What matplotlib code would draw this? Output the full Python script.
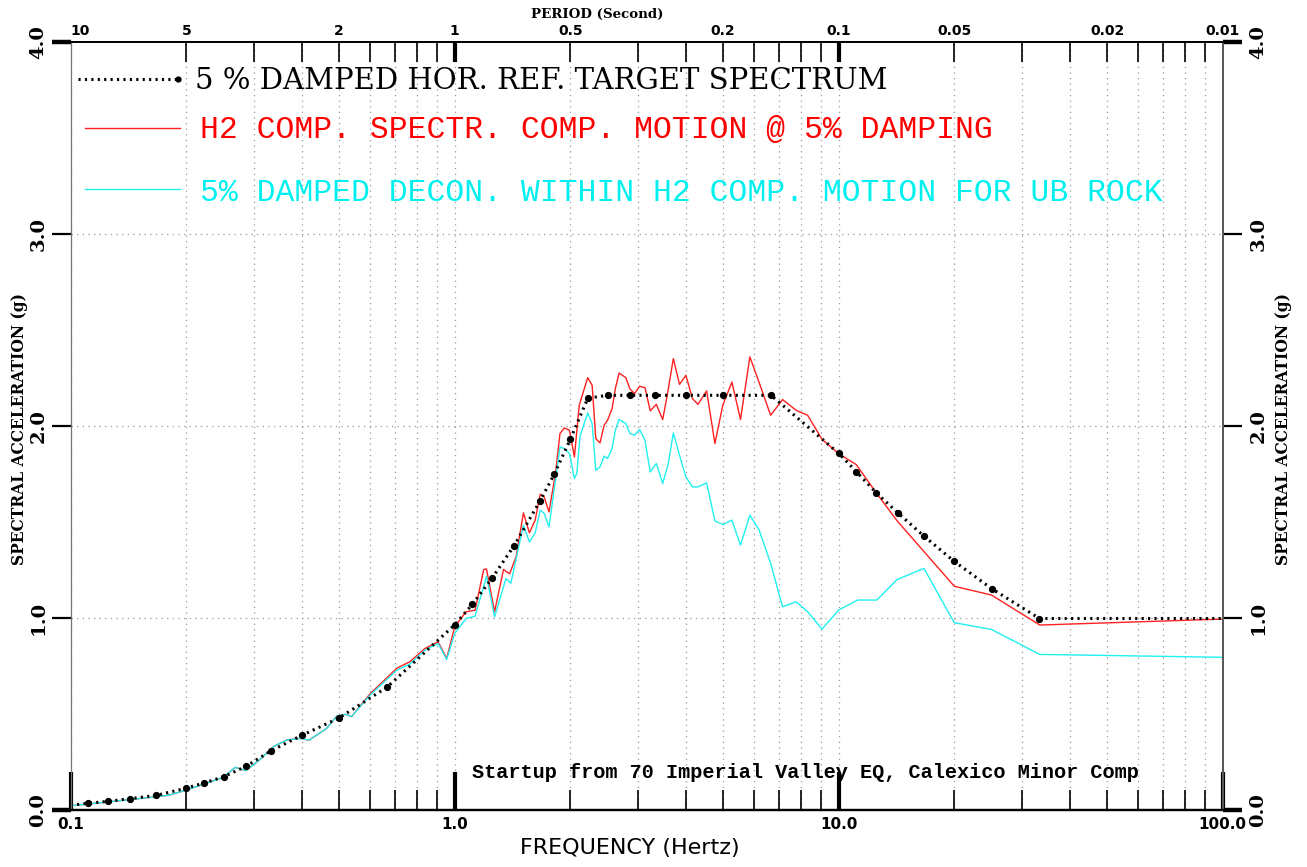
import numpy as np
import matplotlib
matplotlib.use('Agg')
import matplotlib.pyplot as plt
from matplotlib.lines import Line2D

# 5% damped horizontal reference target spectrum
freq_t = [0.1, 0.111, 0.125, 0.143, 0.167, 0.2, 0.222, 0.25, 0.286, 0.333,
          0.4, 0.5, 0.667, 1.0, 1.111, 1.25, 1.429, 1.667, 1.818, 2.0,
          2.222, 2.5, 2.857, 3.333, 4.0, 5.0, 6.667, 10.0, 11.11, 12.5,
          14.29, 16.67, 20.0, 25.0, 33.33, 100.0]
sa_t = [0.025, 0.035, 0.045, 0.059, 0.076, 0.114, 0.140, 0.173, 0.227, 0.309,
        0.389, 0.479, 0.640, 0.964, 1.070, 1.206, 1.377, 1.608, 1.750, 1.930,
        2.144, 2.159, 2.159, 2.159, 2.159, 2.159, 2.159, 1.857, 1.762, 1.653,
        1.545, 1.426, 1.294, 1.153, 0.997, 0.997]

# H2 component spectrum of the compatible motion
freq_h2 = [0.1, 0.126, 0.167, 0.181, 0.2, 0.25, 0.268, 0.286, 0.31, 0.337,
           0.365, 0.395, 0.418, 0.464, 0.493, 0.52, 0.539, 0.602, 0.707, 0.764,
           0.837, 0.905, 0.953, 1.0, 1.07, 1.13, 1.19, 1.21, 1.27, 1.34,
           1.39, 1.445, 1.51, 1.565, 1.62, 1.67, 1.71, 1.76, 1.83, 1.88,
           1.93, 1.99, 2.05, 2.11, 2.22, 2.28, 2.33, 2.39, 2.45, 2.5,
           2.57, 2.62, 2.68, 2.79, 2.86, 2.94, 3.03, 3.13, 3.23, 3.35,
           3.48, 3.57, 3.71, 3.85, 4.0, 4.16, 4.3, 4.53, 4.76, 4.99,
           5.27, 5.55, 5.87, 6.2, 6.65, 7.14, 7.75, 8.3, 9.05, 10.0,
           11.1, 12.56, 14.2, 20.0, 25.0, 33.4, 100.0]
sa_h2 = [0.022, 0.043, 0.069, 0.078, 0.104, 0.170, 0.222, 0.205, 0.260, 0.330,
         0.364, 0.373, 0.364, 0.425, 0.489, 0.498, 0.486, 0.605, 0.738, 0.772,
         0.841, 0.876, 0.789, 0.954, 1.032, 1.040, 1.252, 1.255, 1.032, 1.252,
         1.230, 1.318, 1.547, 1.443, 1.509, 1.644, 1.630, 1.552, 1.752, 1.960,
         1.989, 1.977, 1.838, 2.107, 2.251, 2.211, 1.934, 1.911, 2.003, 2.029,
         2.090, 2.194, 2.275, 2.251, 2.192, 2.168, 2.206, 2.199, 2.078, 2.112,
         2.033, 2.150, 2.350, 2.216, 2.263, 2.142, 2.112, 2.182, 1.908, 2.107,
         2.228, 2.033, 2.359, 2.228, 2.055, 2.137, 2.081, 2.055, 1.930, 1.855,
         1.799, 1.648, 1.505, 1.165, 1.119, 0.963, 0.994]

# deconvolved within motion for UB rock
freq_ub = [0.1, 0.126, 0.167, 0.181, 0.2, 0.25, 0.268, 0.286, 0.31, 0.337,
           0.365, 0.395, 0.418, 0.464, 0.493, 0.52, 0.539, 0.602, 0.707, 0.764,
           0.837, 0.905, 0.953, 1.0, 1.07, 1.13, 1.21, 1.27, 1.36, 1.40,
           1.51, 1.565, 1.62, 1.67, 1.71, 1.76, 1.83, 1.88, 1.93, 1.99,
           2.05, 2.08, 2.12, 2.22, 2.28, 2.33, 2.39, 2.45, 2.5, 2.57,
           2.62, 2.68, 2.79, 2.86, 2.94, 3.03, 3.13, 3.23, 3.35, 3.48,
           3.6, 3.71, 3.85, 4.0, 4.16, 4.3, 4.53, 4.76, 5.0, 5.27,
           5.55, 5.87, 6.2, 6.65, 7.14, 7.75, 8.3, 9.05, 10.0, 11.2,
           12.56, 14.2, 16.67, 20.0, 25.0, 33.4, 100.0]
sa_ub = [0.022, 0.043, 0.069, 0.078, 0.104, 0.170, 0.222, 0.205, 0.260, 0.330,
         0.364, 0.373, 0.364, 0.425, 0.489, 0.498, 0.486, 0.598, 0.728, 0.760,
         0.832, 0.867, 0.784, 0.919, 0.997, 1.009, 1.217, 1.006, 1.205, 1.180,
         1.483, 1.396, 1.443, 1.561, 1.544, 1.474, 1.717, 1.890, 1.882, 1.856,
         1.726, 1.752, 1.946, 2.067, 2.012, 1.769, 1.786, 1.842, 1.830, 1.882,
         1.977, 2.033, 2.012, 1.960, 1.951, 1.981, 1.925, 1.760, 1.804, 1.700,
         1.804, 1.963, 1.847, 1.734, 1.682, 1.682, 1.703, 1.505, 1.486, 1.509,
         1.379, 1.535, 1.460, 1.284, 1.058, 1.084, 1.032, 0.942, 1.041, 1.093,
         1.093, 1.200, 1.258, 0.975, 0.940, 0.810, 0.795]

freq_major = [0.1, 1.0, 10.0, 100.0]
freq_major_lbl = ['0.1', '1.0', '10.0', '100.0']
freq_minor = [m * d for d in (0.1, 1.0, 10.0) for m in range(2, 10)]
period_pos = [0.1, 0.2, 0.5, 1.0, 2.0, 5.0, 10.0, 20.0, 50.0, 100.0]
period_lbl = ['10', '5', '2', '1', '0.5', '0.2', '0.1', '0.05', '0.02', '0.01']
sa_ticks = [0.0, 1.0, 2.0, 3.0, 4.0]
sa_lbl = ['0.0', '1.0', '2.0', '3.0', '4.0']

legend_txt = ['5 % DAMPED HOR. REF. TARGET SPECTRUM',
              'H2 COMP. SPECTR. COMP. MOTION @ 5% DAMPING',
              '5% DAMPED DECON. WITHIN H2 COMP. MOTION FOR UB ROCK']
note_txt = 'Startup from 70 Imperial Valley EQ, Calexico Minor Comp'

W, H = 1307, 867
fig = plt.figure(figsize=(W / 100, H / 100), dpi=100)
ax = fig.add_axes([70.7 / W, 1 - 810 / H, (1222.7 - 70.7) / W, (810 - 41.7) / H])

def fx(px):
    return px / W

def fy(py):
    return 1 - py / H

ax.set_xscale('log')
ax.set_xlim(0.1, 100)
ax.set_ylim(0, 4)

gridkw = dict(color='0.6', lw=0.9, linestyle=(0, (1, 3.5)))
ax.set_xticks(freq_major)
ax.set_xticks(freq_minor, minor=True)
ax.set_yticks([0.0, 4.0])
ax.set_yticks([1.0, 2.0, 3.0], minor=True)
ax.grid(True, axis='x', which='both', **gridkw)
ax.grid(True, axis='y', which='minor', **gridkw)
ax.set_axisbelow(True)

ax.tick_params(axis='x', which='major', direction='in', length=27.5, width=3,
               bottom=True, top=False, labelbottom=False)
ax.tick_params(axis='x', which='minor', direction='in', length=14.5, width=1.2,
               bottom=True, top=False, labelbottom=False)
ax.tick_params(axis='y', which='major', direction='out', length=13.7, width=3.2,
               left=True, right=True, labelleft=False)
ax.tick_params(axis='y', which='minor', direction='out', length=13.7, width=1.6,
               left=True, right=True, labelleft=False)

# period axis on top, same frequency positions
ax2 = ax.twiny()
ax2.set_xscale('log')
ax2.set_xlim(0.1, 100)
ax2.set_xticks([1.0, 10.0])
ax2.set_xticks(freq_minor, minor=True)
ax2.tick_params(axis='x', which='major', direction='in', length=14.5, width=3,
                top=True, labeltop=False)
ax2.tick_params(axis='x', which='minor', direction='in', length=14.5, width=1.2,
                top=True, labeltop=False)

for a in (ax, ax2):
    a.spines['top'].set_linewidth(1.3)
    a.spines['bottom'].set_linewidth(1.6)
    a.spines['left'].set_color('0.45')
    a.spines['right'].set_color('0.35')
    a.spines['right'].set_linewidth(1.4)

ax.plot(freq_h2, sa_h2, color='#ff2020', lw=1.0, zorder=3)
ax.plot(freq_ub, sa_ub, color='#20f0f0', lw=1.0, zorder=4)
ax.plot(freq_t, sa_t, color='black', lw=2.2, linestyle=(0, (0.7, 1.4)),
        zorder=5)
ax.plot(freq_t[1:-1], sa_t[1:-1], 'o', color='black', ms=4.2, zorder=6)

xtr = ax.get_xaxis_transform()
ytr = ax.get_yaxis_transform()
for f, s in zip(freq_major, freq_major_lbl):
    ax.text(f, -0.019, s, transform=xtr, ha='center', va='center',
            fontsize=11, fontweight='bold', family='DejaVu Sans')
for i, (f, s) in enumerate(zip(period_pos, period_lbl)):
    ax.text(f, 1.0 + 0.0135, s, transform=xtr,
            ha='left' if i == 0 else 'center', va='center',
            fontsize=10, fontweight='bold', family='DejaVu Sans')
for v, s in zip(sa_ticks, sa_lbl):
    ax.text(-0.028, v, s, transform=ytr, ha='center', va='center',
            rotation=90, fontsize=14, fontweight='bold', family='DejaVu Serif')
    ax.text(1.031, v, s, transform=ytr, ha='center', va='center',
            rotation=90, fontsize=14, fontweight='bold', family='DejaVu Serif')

fig.text(fx(597), fy(14), 'PERIOD (Second)', ha='center', va='center',
         fontsize=9.6, fontweight='bold', family='DejaVu Serif')
fig.text(fx(630), fy(848), 'FREQUENCY (Hertz)', ha='center', va='center',
         fontsize=16, family='DejaVu Sans')
fig.text(fx(20), fy(429), 'SPECTRAL ACCELERATION (g)', ha='center',
         va='center', rotation=90, fontsize=11.2, fontweight='bold',
         family='DejaVu Serif')
fig.text(fx(1283), fy(429), 'SPECTRAL ACCELERATION (g)', ha='center',
         va='center', rotation=90, fontsize=11.2, fontweight='bold',
         family='DejaVu Serif')

# legend block drawn in figure space
fig.add_artist(Line2D([fx(78), fx(178)], [fy(79), fy(79)], color='black',
                      lw=2.2, linestyle=(0, (0.7, 1.4))))
fig.add_artist(Line2D([fx(178)], [fy(79)], marker='o', color='black', ms=3.5))
fig.text(fx(195), fy(81), legend_txt[0], ha='left', va='center',
         fontsize=21, family='DejaVu Serif')
fig.add_artist(Line2D([fx(85), fx(180)], [fy(128), fy(128)],
                      color='#ff2020', lw=1.0))
fig.text(fx(200), fy(130), legend_txt[1], ha='left', va='center',
         fontsize=22.6, family='Liberation Mono', color='#ff0000')
fig.add_artist(Line2D([fx(85), fx(180)], [fy(189), fy(189)],
                      color='#20f0f0', lw=1.0))
fig.text(fx(200), fy(193), legend_txt[2], ha='left', va='center',
         fontsize=22.6, family='Liberation Mono', color='#00f0f0')

fig.text(fx(472), fy(773), note_txt, ha='left', va='center',
         fontsize=14.6, family='Liberation Mono', fontweight='bold')

fig.savefig('out.png', dpi=100)
